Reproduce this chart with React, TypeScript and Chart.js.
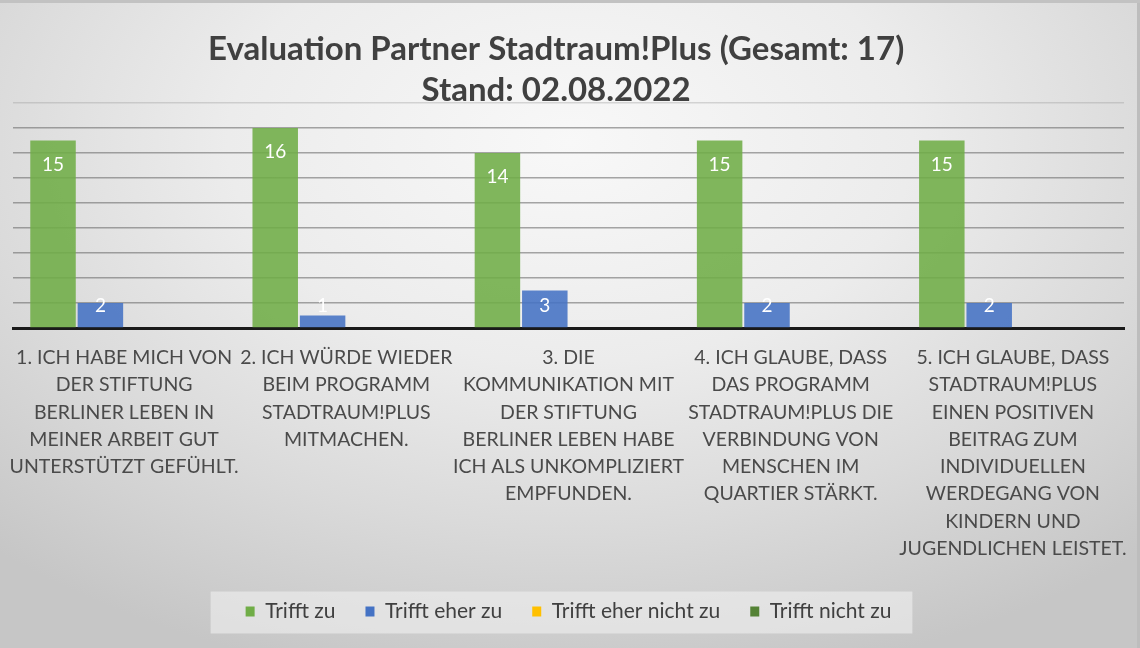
import React, { useEffect, useRef } from 'react';
import { Chart, registerables } from 'chart.js';

Chart.register(...registerables);

// trailing em space keeps the title slightly left of centre, as in the reference
const titleLines: string[] = ['Evaluation Partner Stadtraum!Plus (Gesamt: 17)\u2003', 'Stand: 02.08.2022\u2003'];

const categories: string[][] = [
  ['1. ICH HABE MICH VON', 'DER STIFTUNG', 'BERLINER LEBEN IN', 'MEINER ARBEIT GUT', 'UNTERSTÜTZT GEFÜHLT.'],
  ['2. ICH WÜRDE WIEDER', 'BEIM PROGRAMM', 'STADTRAUM!PLUS', 'MITMACHEN.'],
  ['3. DIE', 'KOMMUNIKATION MIT', 'DER STIFTUNG', 'BERLINER LEBEN HABE', 'ICH ALS UNKOMPLIZIERT', 'EMPFUNDEN.'],
  ['4. ICH GLAUBE, DASS', 'DAS PROGRAMM', 'STADTRAUM!PLUS DIE', 'VERBINDUNG VON', 'MENSCHEN IM', 'QUARTIER STÄRKT.'],
  ['5. ICH GLAUBE, DASS', 'STADTRAUM!PLUS', 'EINEN POSITIVEN', 'BEITRAG ZUM', 'INDIVIDUELLEN', 'WERDEGANG VON', 'KINDERN UND', 'JUGENDLICHEN LEISTET.'],
];

const seriesNames: string[] = ['Trifft zu', 'Trifft eher zu', 'Trifft eher nicht zu', 'Trifft nicht zu'];
const trifftZu: number[] = [15, 16, 14, 15, 15];
const trifftEherZu: number[] = [2, 1, 3, 2, 2];
const trifftEherNichtZu: number[] = [0, 0, 0, 0, 0];
const trifftNichtZu: number[] = [0, 0, 0, 0, 0];

const yMax = 18;
const yStep = 2;

const barColors = ['rgba(112,173,71,0.88)', 'rgba(68,114,196,0.88)', 'rgba(255,192,0,0.88)', 'rgba(84,130,53,0.88)'];
const legendColors = ['#70AD47', '#4472C4', '#FFC000', '#548235'];

const valueLabelPlugin = {
  id: 'valueLabels',
  afterDatasetsDraw(chart: any) {
    const ctx = chart.ctx;
    const base = chart.scales.y.getPixelForValue(0);
    ctx.save();
    ctx.fillStyle = '#ffffff';
    ctx.font = '19px Lato';
    ctx.textAlign = 'center';
    ctx.textBaseline = 'middle';
    chart.data.datasets.forEach((ds: any, i: number) => {
      const meta = chart.getDatasetMeta(i);
      meta.data.forEach((el: any, j: number) => {
        const v = ds.data[j];
        if (!v) return;
        const y = Math.min(el.y + 24, base - 22.5);
        ctx.fillText(String(v), el.x, y);
      });
    });
    ctx.restore();
  },
};

const legendBgPlugin = {
  id: 'legendBg',
  beforeDraw(chart: any) {
    const lg = chart.legend;
    if (!lg || !lg.legendHitBoxes || !lg.legendHitBoxes.length) return;
    const hb = lg.legendHitBoxes;
    const first = hb[0];
    const last = hb[hb.length - 1];
    const left = first.left - 35;
    const right = last.left + last.width + 21;
    const cy = first.top + first.height / 2 + 1;
    const ctx = chart.ctx;
    ctx.save();
    ctx.fillStyle = 'rgba(240,240,240,0.6)';
    ctx.fillRect(left, cy - 21, right - left, 42);
    ctx.restore();
  },
};

export default function App() {
  const ref = useRef<HTMLCanvasElement | null>(null);

  useEffect(() => {
    if (!ref.current) return;
    const chart = new Chart(ref.current, {
      type: 'bar',
      data: {
        labels: categories,
        datasets: [trifftZu, trifftEherZu, trifftEherNichtZu, trifftNichtZu].map((d, i) => ({
          label: seriesNames[i],
          data: d,
          backgroundColor: barColors[i],
          borderWidth: 0,
          barPercentage: 0.96,
          categoryPercentage: 0.853,
        })),
      },
      options: {
        responsive: false,
        animation: false,
        layout: { padding: { left: 13, right: 16, top: 0, bottom: 16 } },
        plugins: {
          tooltip: { enabled: false },
          title: {
            display: true,
            text: titleLines,
            color: '#404040',
            font: { family: 'Lato', size: 33, weight: 'bold', lineHeight: 41 / 33 },
            padding: { top: 29, bottom: -8 },
          },
          legend: {
            display: true,
            position: 'bottom',
            labels: {
              color: '#404040',
              font: { family: 'Lato', size: 21 },
              boxWidth: 9,
              boxHeight: 10,
              padding: 30,
              generateLabels: (c: any) =>
                c.data.datasets.map((ds: any, i: number) => ({
                  text: ds.label,
                  fillStyle: legendColors[i],
                  strokeStyle: 'rgba(0,0,0,0)',
                  lineWidth: 0,
                  fontColor: '#404040',
                  hidden: false,
                  datasetIndex: i,
                })),
            },
          },
        },
        scales: {
          x: {
            grid: { display: false, drawTicks: false },
            border: { display: true, color: '#1a1a1a', width: 3 },
            ticks: {
              color: '#4a4a4a',
              font: { family: 'Lato', size: 19.5, lineHeight: 27.3 / 19.5 },
              padding: 16,
              autoSkip: false,
              maxRotation: 0,
              minRotation: 0,
            },
            afterFit: (s: any) => {
              s.height = 243;
              s.paddingLeft = 0;
              s.paddingRight = 0;
            },
          },
          y: {
            min: 0,
            max: yMax,
            ticks: { display: false, stepSize: yStep },
            border: { display: false },
            grid: {
              drawTicks: false,
              lineWidth: 1.5,
              color: (c: any) => {
                const v = c.tick ? c.tick.value : 0;
                if (v === 0) return 'rgba(0,0,0,0)';
                if (v === yMax) return 'rgba(150,150,150,0.35)';
                return 'rgba(105,105,105,0.58)';
              },
            },
            afterFit: (s: any) => {
              s.width = 0;
              s.paddingTop = 0;
              s.paddingBottom = 0;
            },
          },
        },
      },
      plugins: [legendBgPlugin, valueLabelPlugin],
    } as any);
    return () => chart.destroy();
  }, []);

  return (
    <div
      style={{
        position: 'fixed',
        left: 0,
        top: 0,
        width: 1140,
        height: 648,
        background:
          'radial-gradient(ellipse 75% 85% at 50% 22%, #f8f8f8 0%, #ececec 40%, #dadada 70%, #c6c6c6 100%)',
        boxShadow: 'inset 0 3px 0 #c2c2c2, inset -3px 0 0 #bdbdbd',
      }}
    >
      <canvas ref={ref} width={1140} height={648} style={{ display: 'block' }} />
    </div>
  );
}
